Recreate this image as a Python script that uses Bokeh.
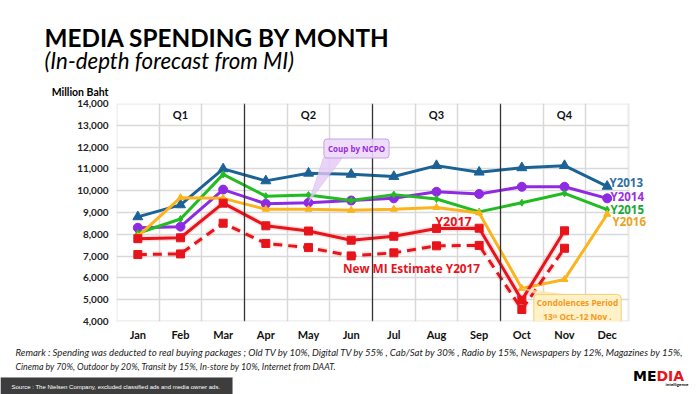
from bokeh.plotting import figure
from bokeh.layouts import column
from bokeh.models import (Range1d, FixedTicker, Span, Label, Grid, PolyAnnotation,
                          NumeralTickFormatter, BoxAnnotation)
from bokeh.embed import file_html
from bokeh.resources import INLINE

months = ["Jan", "Feb", "Mar", "Apr", "May", "Jun", "Jul", "Aug", "Sep", "Oct", "Nov", "Dec"]
y2013 = [8800, 9350, 11000, 10450, 10800, 10750, 10650, 11150, 10850, 11050, 11150, 10200]
y2014 = [8300, 8350, 10050, 9400, 9450, 9550, 9650, 9950, 9850, 10180, 10180, 9650]
y2015 = [8050, 8700, 10750, 9750, 9800, 9550, 9820, 9620, 9030, 9450, 9880, 9130]
y2016 = [7900, 9680, 9650, 9150, 9150, 9100, 9150, 9230, 8980, 5520, 5930, 8920]
y2017 = [7800, 7840, 9430, 8390, 8150, 7730, 7910, 8270, 8280, 4980, 8160]
est2017 = [7070, 7100, 8510, 7580, 7390, 7010, 7150, 7470, 7490, 4550, 7360]
quarters = ["Q1", "Q2", "Q3", "Q4"]
y_ticks = list(range(4000, 14001, 1000))

W = 700
TOP_H, MAIN_H, BOT_H = 97, 246, 51
FL, FT, FB = 116, 103, 321          # page coords of the plot frame
BOX_W = 512                          # width of the 12-month plot box in px
FRAME_W = W - FL
XMAX = 12 * FRAME_W / BOX_W

def bare(height, y0, y1):
    f = figure(width=W, height=height, output_backend="svg", toolbar_location=None,
               x_range=Range1d(0, W), y_range=Range1d(y1, y0),
               x_axis_location=None, y_axis_location=None, title=None,
               min_border=0, min_border_left=0, min_border_right=0,
               min_border_top=0, min_border_bottom=0, frame_align=False)
    f.grid.visible = False
    f.outline_line_color = None
    f.background_fill_color = "white"
    f.border_fill_color = "white"
    return f

def dlab(fig, text, x, y, size, color="#000000", font="Lato", style="normal",
         align="left", baseline="middle", **kw):
    fig.add_layout(Label(x=x, y=y, text=text, text_font=font, text_font_size=f"{size}px",
                         text_font_style=style, text_color=color, text_align=align,
                         text_baseline=baseline, **kw))

# ---------------- top: titles ----------------
top = bare(TOP_H, 0, TOP_H)
dlab(top, "MEDIA SPENDING BY MONTH", 44, 37, 24.3, style="bold")
dlab(top, "(In-depth forecast from MI)", 44, 60, 22.3, style="italic")
dlab(top, "Million Baht", 108, 91, 10.5, style="bold", align="right")

# ---------------- main chart ----------------
p = figure(width=W, height=MAIN_H, output_backend="svg", toolbar_location=None,
           x_range=Range1d(0, XMAX), y_range=Range1d(4000, 14000), title=None,
           min_border_left=FL, min_border_right=0, min_border_top=FT - TOP_H,
           min_border_bottom=TOP_H + MAIN_H - FB, frame_align=False)
p.background_fill_color = "white"
p.border_fill_color = "white"
p.outline_line_color = None

xs = [i + 0.5 for i in range(len(months))]

for ax in (p.xaxis[0], p.yaxis[0]):
    ax.axis_line_color = None
    ax.major_tick_line_color = None
    ax.minor_tick_line_color = None
    ax.major_tick_out = 0
    ax.major_tick_in = 0
    ax.minor_tick_out = 0
    ax.minor_tick_in = 0
    ax.major_label_text_font = "Lato"
    ax.major_label_text_font_style = "bold"

p.xaxis.ticker = FixedTicker(ticks=xs)
p.xaxis.major_label_overrides = {x: m for x, m in zip(xs, months)}
p.xaxis.major_label_standoff = 6
p.xaxis.major_label_text_font_size = "11px"
p.xaxis.major_label_text_color = "#111111"

p.yaxis.ticker = FixedTicker(ticks=y_ticks)
p.yaxis.formatter = NumeralTickFormatter(format="0,0")
p.yaxis.major_label_standoff = 8
p.yaxis.major_label_text_font_size = "10px"
p.yaxis.major_label_text_color = "#222222"

p.xgrid.visible = False
p.ygrid.grid_line_color = "#d9d9d9"
p.ygrid.grid_line_width = 1.5
p.add_layout(Grid(dimension=0, ticker=FixedTicker(ticks=[1, 2, 4, 5, 7, 8, 10, 11]),
                  grid_line_color="#d9d9d9", grid_line_width=1.5))
for q in [3, 6, 9]:
    p.add_layout(Span(location=q, dimension="height", line_color="#333333", line_width=1.3))

# blank area right of the plot box, and the box outline
p.add_layout(BoxAnnotation(left=12, fill_color="white", fill_alpha=1, line_color=None))
p.add_layout(BoxAnnotation(left=0, right=12, bottom=4000, top=14000, fill_alpha=0,
                           line_color="#c4c4c4", line_width=2.5))

# callout pointers
p.add_layout(PolyAnnotation(xs=[xs[4], 4.85, 5.3], ys=[y2014[4], 11520, 11520],
                            fill_color="#e3c8f5", fill_alpha=0.8, line_color="#c9a0e8", line_width=1))
p.add_layout(PolyAnnotation(xs=[xs[9], 9.9, 10.6], ys=[y2016[9], 5200, 5200],
                            fill_color="#fde9b0", fill_alpha=0.8, line_color="#f5d27a", line_width=1))

series = [
    (y2013, "#1b6396", "triangle", 10),
    (y2014, "#8e2be2", "circle", 9),
    (y2015, "#22bb22", "diamond", 7),
    (y2016, "#fbb41e", "triangle", 7),
]
for vals, col, mk, sz in series:
    p.line(xs[:len(vals)], vals, line_color=col, line_width=3)
    p.scatter(xs[:len(vals)], vals, marker=mk, size=sz, color=col)

red = "#e8141b"
p.line(xs[:len(y2017)], y2017, line_color=red, line_width=6, line_alpha=0.13)
p.line(xs[:len(y2017)], y2017, line_color=red, line_width=3)
p.scatter(xs[:len(y2017)], y2017, marker="square", size=8, color=red)
p.line(xs[:len(est2017)], est2017, line_color=red, line_width=6, line_alpha=0.13, line_dash="9 6")
p.line(xs[:len(est2017)], est2017, line_color=red, line_width=3, line_dash="9 6")
p.scatter(xs[:len(est2017)], est2017, marker="square", size=8, color=red)

def slab(text, xp, yp, size, color="#000000", font="Lato", style="normal",
         align="left", baseline="middle", **kw):
    p.add_layout(Label(x=xp - FL, y=FB - yp, x_units="screen", y_units="screen", text=text,
                       text_font=font, text_font_size=f"{size}px", text_font_style=style,
                       text_color=color, text_align=align, text_baseline=baseline, **kw))

for i, q in enumerate(quarters):
    p.add_layout(Label(x=xs[3 * i + 1], y=13500, text=q, text_font="Lato", text_font_style="bold",
                       text_font_size="11px", text_align="center", text_baseline="middle",
                       text_color="#111111"))

slab("Y2013", 609, 182, 11.5, "#2f6ea6", font="Open Sans", style="bold")
slab("Y2014", 610, 196, 11.5, "#9a32e0", font="Open Sans", style="bold")
slab("Y2015", 610, 209, 11.5, "#1aa83a", font="Open Sans", style="bold")
slab("Y2016", 612, 221, 11.5, "#e8a41e", font="Open Sans", style="bold")
slab("Y2017", 453, 221, 12.5, red, font="Open Sans", style="bold", align="center")
slab("New MI Estimate Y2017", 411, 267, 11.8, red, font="Open Sans", style="bold", align="center")

slab("Coup by NCPO", 356, 148, 8, "#9a2be0", font="Open Sans", style="bold", align="center",
     background_fill_color="#ecd9f8", background_fill_alpha=0.9, border_line_color="#c9a0e8",
     border_line_width=1, padding=4, border_radius=3)
slab("Condolences Period\n13ᵗʰ Oct.-12 Nov .", 577, 309, 8.3, "#f39a1c", font="Open Sans",
     style="bold", align="center", background_fill_color="#fff0c2", background_fill_alpha=0.9,
     border_line_color="#f6cf70", border_line_width=1, padding=3, border_radius=4)

# ---------------- bottom: remarks, source, logo ----------------
bot = bare(BOT_H, TOP_H + MAIN_H, TOP_H + MAIN_H + BOT_H)
dlab(bot, "Remark : Spending was deducted to real buying packages ; Old TV by 10%, Digital TV by 55% , "
          "Cab/Sat by 30% , Radio by 15%, Newspapers by 12%, Magazines by 15%,",
     15, 352, 9.6, "#222222", style="italic")
dlab(bot, "Cinema by 70%, Outdoor by 20%, Transit by 15%, In-store by 10%, Internet from DAAT.",
     15, 366, 8.85, "#222222", style="italic")
bot.add_layout(BoxAnnotation(left=0, right=232, bottom=377, top=394, fill_color="#3d3d3d",
                             fill_alpha=1, line_color="#8c8c8c", line_width=1))
dlab(bot, "Source : The Nielsen Company, excluded classified ads and media owner ads.",
     11, 386, 6.0, "#ffffff", font="Liberation Sans")
dlab(bot, "ME", 656, 375, 14, "#000000", font="DejaVu Sans", style="bold", align="right")
dlab(bot, "DIA", 656, 375, 14, red, font="DejaVu Sans", style="bold")
dlab(bot, "intelligence", 688, 384, 4.5, "#000000", font="Lato", style="bold", align="right")

layout = column(top, p, bot, spacing=0)
open("out.html", "w").write(file_html(layout, INLINE))
